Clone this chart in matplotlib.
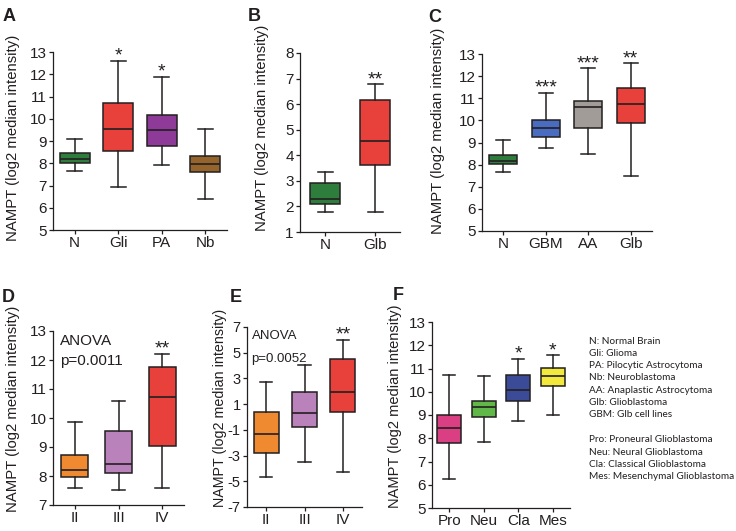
import numpy as np
import matplotlib.pyplot as plt

plt.rcParams['font.family'] = ['Liberation Sans', 'DejaVu Sans']
plt.rcParams['axes.unicode_minus'] = False

W, H = 736, 531

# A: NAMPT in brain tumours
a_groups = ['N', 'Gli', 'PA', 'Nb']
a_low = [7.66, 6.95, 7.90, 6.38]
a_q1 = [8.02, 8.56, 8.78, 7.59]
a_med = [8.17, 9.53, 9.49, 7.96]
a_q3 = [8.44, 10.73, 10.16, 8.34]
a_high = [9.11, 12.61, 11.88, 9.55]
a_stars = ['', '*', '*', '']

# B
b_groups = ['N', 'Glb']
b_low = [1.78, 1.78]
b_q1 = [2.08, 3.61]
b_med = [2.29, 4.56]
b_q3 = [2.93, 6.15]
b_high = [3.33, 6.77]
b_stars = ['', '**']

# C
c_groups = ['N', 'GBM', 'AA', 'Glb']
c_low = [7.66, 8.73, 8.48, 7.50]
c_q1 = [8.02, 9.23, 9.64, 9.89]
c_med = [8.17, 9.67, 10.59, 10.72]
c_q3 = [8.44, 10.03, 10.89, 11.48]
c_high = [9.11, 11.25, 12.35, 12.58]
c_stars = ['', '***', '***', '**']

# D: grades
d_groups = ['II', 'III', 'IV']
d_low = [7.60, 7.52, 7.60]
d_q1 = [7.95, 8.10, 9.05]
d_med = [8.20, 8.40, 10.73]
d_q3 = [8.72, 9.55, 11.75]
d_high = [9.85, 10.58, 12.22]
d_stars = ['', '', '**']

# E: grades, second set
e_groups = ['II', 'III', 'IV']
e_low = [-4.68, -3.52, -4.27]
e_q1 = [-2.79, -0.80, 0.41]
e_med = [-1.32, 0.33, 1.94]
e_q3 = [0.36, 1.94, 4.52]
e_high = [2.70, 4.08, 6.02]
e_stars = ['', '', '**']

# F: subtypes
f_groups = ['Pro', 'Neu', 'Cla', 'Mes']
f_low = [6.26, 7.85, 8.76, 9.00]
f_q1 = [7.81, 8.93, 9.60, 10.23]
f_med = [8.44, 9.34, 10.06, 10.66]
f_q3 = [9.01, 9.60, 10.73, 11.04]
f_high = [10.71, 10.66, 11.42, 11.57]
f_stars = ['', '', '*', '*']

legend_lines = ['N: Normal Brain', 'Gli: Glioma', 'PA: Pilocytic Astrocytoma',
                'Nb: Neuroblastoma', 'AA: Anaplastic Astrocytoma',
                'Glb: Glioblastoma', 'GBM: Glb cell lines']
legend_lines2 = ['Pro: Proneural Glioblastoma', 'Neu: Neural Glioblastoma',
                 'Cla: Classical Glioblastoma', 'Mes: Mesenchymal Glioblastoma']

ink = '#231f20'
ylab = 'NAMPT (log2 median intensity)'


def box_panel(box, groups, low, q1, med, q3, high, colors, stars, ylim, yticks,
              width, tsize=11):
    l, t, r, b = box
    ax = fig.add_axes([l / W, 1 - b / H, (r - l) / W, (b - t) / H])
    pos = np.arange(1, len(groups) + 1)
    stats = []
    for i in range(len(groups)):
        stats.append(dict(med=med[i], q1=q1[i], q3=q3[i], whislo=low[i],
                          whishi=high[i], label=groups[i]))
    bp = ax.bxp(stats, positions=pos, widths=width, patch_artist=True,
                showfliers=False, capwidths=width * 0.5,
                boxprops=dict(edgecolor=ink, linewidth=1.1),
                medianprops=dict(color=ink, linewidth=1.2),
                whiskerprops=dict(color=ink, linewidth=1.1),
                capprops=dict(color=ink, linewidth=1.1))
    for patch, c in zip(bp['boxes'], colors):
        patch.set_facecolor(c)
    for i in range(len(groups)):
        if stars[i]:
            ax.annotate(stars[i], xy=(pos[i], high[i]), xytext=(0, 0),
                        textcoords='offset points', ha='center', va='baseline',
                        fontsize=14, color=ink)
    ax.set_xlim(0.5, len(groups) + 0.5)
    ax.set_ylim(ylim)
    ax.set_yticks(yticks)
    ax.spines['top'].set_visible(False)
    ax.spines['right'].set_visible(False)
    for s in ['left', 'bottom']:
        ax.spines[s].set_linewidth(0.9)
        ax.spines[s].set_color(ink)
    ax.tick_params(direction='out', length=3, width=0.9, labelsize=11,
                   pad=1.5, colors=ink)
    ax.tick_params(axis='y', labelsize=tsize)
    ax.set_facecolor('none')
    return ax


fig = plt.figure(figsize=(W / 100, H / 100), dpi=100)

box_panel((53, 52, 227, 230), a_groups, a_low, a_q1, a_med, a_q3, a_high,
          ['#2f7d3c', '#e8403a', '#8e3a99', '#94642c'], a_stars,
          (5, 13), range(5, 14), 0.68)
box_panel((300, 53, 400, 232), b_groups, b_low, b_q1, b_med, b_q3, b_high,
          ['#2f7d3c', '#e8403a'], b_stars, (1, 8), range(1, 9), 0.6)
box_panel((482, 54, 652, 231), c_groups, c_low, c_q1, c_med, c_q3, c_high,
          ['#2f7d3c', '#4a6cc0', '#a19c98', '#e8403a'], c_stars,
          (5, 13), range(5, 14), 0.66)
ax_d = box_panel((53, 331, 184, 505), d_groups, d_low, d_q1, d_med, d_q3, d_high,
                 ['#f08a30', '#b982bb', '#e8403a'], d_stars,
                 (7, 13), range(7, 14), 0.62)
ax_e = box_panel((247, 327, 362, 507), e_groups, e_low, e_q1, e_med, e_q3, e_high,
                 ['#f08a30', '#b982bb', '#e8403a'], e_stars,
                 (-7, 7), range(-7, 8, 2), 0.65, tsize=10.5)
box_panel((432, 322, 570, 508), f_groups, f_low, f_q1, f_med, f_q3, f_high,
          ['#d93f82', '#5fb848', '#3b4b98', '#f2e93c'], f_stars,
          (5, 13), range(5, 14), 0.7)

ax_d.text(0.66, 12.9, 'ANOVA', fontsize=11, color=ink, va='top')
ax_d.text(0.66, 12.2, 'p=0.0011', fontsize=11, color=ink, va='top')
ax_e.text(0.62, 6.8, 'ANOVA', fontsize=9.5, color=ink, va='top')
ax_e.text(0.62, 5.0, 'p=0.0052', fontsize=9.5, color=ink, va='top')

# y labels and panel letters, placed in pixels
for x, y, fs in [(13, 138, 10.7), (262, 128, 10.7), (438, 131, 10.7),
                 (13, 409, 10.7), (220, 408, 10.3), (395, 406, 10.5)]:
    fig.text(x / W, 1 - y / H, ylab, rotation=90, ha='center', va='center',
             fontsize=fs, color=ink)
for x, y, s in [(3, 8, 'A'), (248, 8, 'B'), (428, 9, 'C'),
                (2, 289, 'D'), (230, 289, 'E'), (393, 287, 'F')]:
    fig.text(x / W, 1 - y / H, s, ha='left', va='top', fontsize=13,
             fontweight='bold', color=ink)

for i, s in enumerate(legend_lines):
    fig.text(589 / W, 1 - (341 + i * 12.3) / H, s, fontsize=7.2,
             family=['Lato', 'DejaVu Sans'], va='center', color=ink)
for i, s in enumerate(legend_lines2):
    fig.text(589 / W, 1 - (440 + i * 12.3) / H, s, fontsize=7.2,
             family=['Lato', 'DejaVu Sans'], va='center', color=ink)

plt.savefig('out.png', dpi=100)
